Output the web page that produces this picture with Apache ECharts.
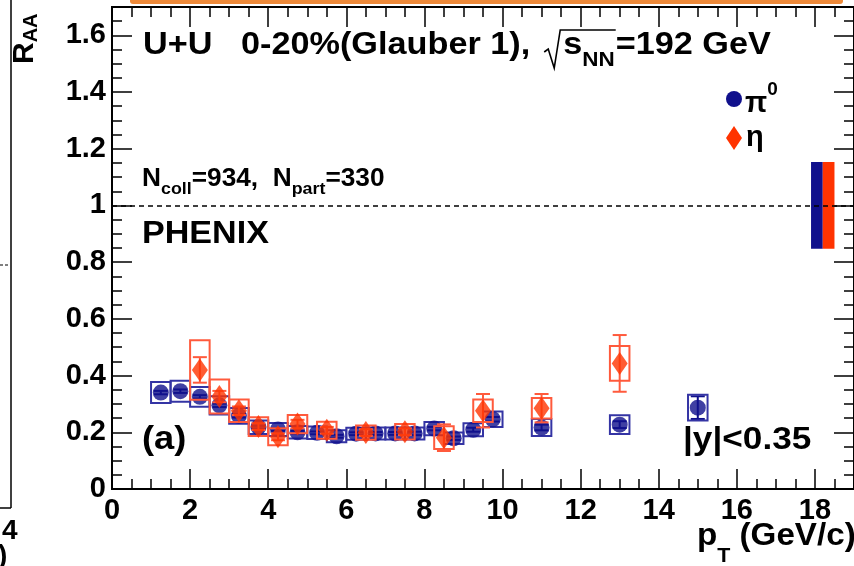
<!DOCTYPE html>
<html>
<head>
<meta charset="utf-8">
<script src="https://cdn.jsdelivr.net/npm/echarts@6/dist/echarts.min.js"></script>
<style>
html,body{margin:0;padding:0;background:#fff;}
#chart{width:854px;height:566px;}
</style>
</head>
<body>
<div id="chart"></div>
<script>
// ---- data ----
const pi0X    = [1.25,1.75,2.25,2.75,3.25,3.75,4.25,4.75,5.25,5.75,6.25,6.75,7.25,7.75,8.25,8.75,9.25,9.75,11,13,15];
const pi0Y    = [0.340,0.345,0.325,0.295,0.258,0.218,0.210,0.200,0.198,0.186,0.195,0.196,0.196,0.196,0.213,0.179,0.209,0.246,0.217,0.227,0.287];
const pi0Stat = [0.006,0.006,0.006,0.006,0.006,0.005,0.005,0.005,0.005,0.005,0.005,0.005,0.005,0.006,0.006,0.006,0.007,0.008,0.010,0.012,0.040];
const pi0Sys  = [0.037,0.037,0.035,0.032,0.028,0.024,0.023,0.022,0.022,0.021,0.021,0.021,0.021,0.021,0.023,0.020,0.023,0.027,0.030,0.033,0.045];

const etaX    = [2.25,2.75,3.25,3.75,4.25,4.75,5.5,6.5,7.5,8.5,9.5,11,13];
const etaY    = [0.420,0.326,0.276,0.220,0.184,0.229,0.207,0.199,0.202,0.181,0.276,0.285,0.443];
const etaStat = [0.045,0.020,0.015,0.012,0.012,0.015,0.012,0.012,0.012,0.047,0.059,0.050,0.100];
const etaSys  = [0.105,0.060,0.040,0.033,0.030,0.032,0.030,0.025,0.027,0.040,0.040,0.036,0.061];

// global normalisation uncertainty boxes around R_AA = 1 (pi0, eta)
const normX   = [18.05, 18.35];
const normErr = [0.153, 0.153];

const xTicks  = [0,2,4,6,8,10,12,14,16,18];
const yTicks  = [0,0.2,0.4,0.6,0.8,1,1.2,1.4,1.6];

// ---- style ----
const FONT = '"Liberation Sans", Arial, Helvetica, sans-serif';
const NAVY = '#10108c';
const NAVY_BOX = '#3434a4';
const RED = '#ff3300';
const RED_BOX = '#ff5a3c';
const XMIN = 0, XMAX = 19, YMIN = 0, YMAX = 1.7;
const BOX_HALF = 0.25;

const chart = echarts.init(document.getElementById('chart'), null, {renderer: 'canvas'});

// text run helper: places consecutive text pieces (with sub/superscript offsets)
const mctx = document.createElement('canvas').getContext('2d');
function textRun(x, yMid, segs, sx) {
  sx = sx || 1;
  const els = [], pos = [];
  let cx = x;
  segs.forEach(function (sg) {
    const t = sg[0], size = sg[1], dy = sg[2] || 0, gap = sg[3] || 0;
    cx += gap;
    const font = 'bold ' + size + 'px ' + FONT;
    mctx.font = font;
    const w = mctx.measureText(t).width * sx;
    els.push({type: 'text', x: cx, y: yMid + dy, scaleX: sx, z: 100,
      style: {text: t, font: font, fill: '#000', verticalAlign: 'middle', align: 'left'}});
    pos.push([cx, w]);
    cx += w;
  });
  return {els: els, pos: pos};
}

function axisCommon(extra) {
  return Object.assign({
    axisLine: {show: true, onZero: false, lineStyle: {color: '#000', width: 2}},
    splitLine: {show: false},
  }, extra);
}

const xMajorLabel = {
  show: true, color: '#000', fontFamily: FONT, fontWeight: 'bold', fontSize: 29, margin: 7,
  formatter: v => (xTicks.indexOf(v) >= 0 ? String(v) : ''),
  showMaxLabel: false
};
const yMajorLabel = {
  show: true, color: '#000', fontFamily: FONT, fontWeight: 'bold', fontSize: 29, margin: 6,
  formatter: v => { const r = Math.round(v*10)/10; return yTicks.indexOf(r) >= 0 ? String(r) : ''; },
  showMaxLabel: false
};
const tickStyle = {color: '#000', width: 1.5};

const xAxes = [
  axisCommon({type: 'value', position: 'bottom', min: XMIN, max: XMAX, interval: 2,
    axisTick: {show: true, inside: true, length: 20, lineStyle: tickStyle}, axisLabel: xMajorLabel}),
  axisCommon({type: 'value', position: 'bottom', min: XMIN, max: XMAX, interval: 0.5,
    axisTick: {show: true, inside: true, length: 10, lineStyle: tickStyle}, axisLabel: {show: false}}),
  axisCommon({type: 'value', position: 'top', min: XMIN, max: XMAX, interval: 2,
    axisTick: {show: true, inside: true, length: 20, lineStyle: tickStyle}, axisLabel: {show: false}}),
  axisCommon({type: 'value', position: 'top', min: XMIN, max: XMAX, interval: 0.5,
    axisTick: {show: true, inside: true, length: 10, lineStyle: tickStyle}, axisLabel: {show: false}})
];
const yAxes = [
  axisCommon({type: 'value', position: 'left', min: YMIN, max: YMAX, interval: 0.2,
    axisTick: {show: true, inside: true, length: 20, lineStyle: tickStyle}, axisLabel: yMajorLabel}),
  axisCommon({type: 'value', position: 'left', min: YMIN, max: YMAX, interval: 0.05,
    axisTick: {show: true, inside: true, length: 10, lineStyle: tickStyle}, axisLabel: {show: false}}),
  axisCommon({type: 'value', position: 'right', min: YMIN, max: YMAX, interval: 0.2,
    axisTick: {show: true, inside: true, length: 20, lineStyle: tickStyle}, axisLabel: {show: false}}),
  axisCommon({type: 'value', position: 'right', min: YMIN, max: YMAX, interval: 0.05,
    axisTick: {show: true, inside: true, length: 10, lineStyle: tickStyle}, axisLabel: {show: false}})
];

function sysBoxSeries(name, xs, ys, sys, color, z) {
  return {
    name: name, type: 'custom', z: z, silent: true,
    data: xs.map((x, i) => [x, ys[i], sys[i]]),
    renderItem: function (params, api) {
      const x = api.value(0), y = api.value(1), e = api.value(2);
      const p0 = api.coord([x - BOX_HALF, y + e]);
      const p1 = api.coord([x + BOX_HALF, y - e]);
      return {type: 'rect', shape: {x: p0[0], y: p0[1], width: p1[0]-p0[0], height: p1[1]-p0[1]},
        style: {fill: 'none', stroke: color, lineWidth: 2}};
    }
  };
}
function errBarSeries(name, xs, ys, err, color, z) {
  return {
    name: name, type: 'custom', z: z, silent: true,
    data: xs.map((x, i) => [x, ys[i], err[i]]),
    renderItem: function (params, api) {
      const x = api.value(0), y = api.value(1), e = api.value(2);
      const top = api.coord([x, y + e]);
      const bot = api.coord([x, y - e]);
      const cw = 7;
      return {type: 'group', children: [
        {type: 'line', shape: {x1: top[0], y1: top[1], x2: bot[0], y2: bot[1]}, style: {stroke: color, lineWidth: 2}},
        {type: 'line', shape: {x1: top[0]-cw, y1: top[1], x2: top[0]+cw, y2: top[1]}, style: {stroke: color, lineWidth: 2}},
        {type: 'line', shape: {x1: bot[0]-cw, y1: bot[1], x2: bot[0]+cw, y2: bot[1]}, style: {stroke: color, lineWidth: 2}}
      ]};
    }
  };
}

const normSeries = {
  name: 'norm', type: 'custom', z: 4, silent: true,
  data: normX.map((x, i) => [x, 1, normErr[i], i]),
  renderItem: function (params, api) {
    const x = api.value(0), y = api.value(1), e = api.value(2), k = api.value(3);
    const p0 = api.coord([x - 0.15, y + e]);
    const p1 = api.coord([x + 0.15, y - e]);
    return {type: 'rect', shape: {x: p0[0], y: p0[1], width: p1[0]-p0[0], height: p1[1]-p0[1]},
      style: {fill: k === 0 ? NAVY : RED}};
  }
};

// ---- annotation texts ----
const title = textRun(143, 45, [
  ['U+U   0-20%(Glauber 1),', 32, 0],
  ['s', 32, 0, 33],
  ['NN', 21, 15],
  ['=192 GeV', 32, 0, 1]
], 1.07);
const sPos = title.pos[1], nnPos = title.pos[2];
const radical = {type: 'polyline', z: 100,
  shape: {points: [[sPos[0]-19, 52], [sPos[0]-15, 49], [sPos[0]-9, 68], [sPos[0]-3, 30], [nnPos[0]+nnPos[1]+1, 30]]},
  style: {stroke: '#000', lineWidth: 1.6, fill: 'none'}};

const ncoll = textRun(142, 179, [
  ['N', 25, 0], ['coll', 17, 10], ['=934,  N', 25, 0], ['part', 17, 10], ['=330', 25, 0]
], 1.05);
const pt = textRun(697, 536, [['p', 31, 0], ['T', 20, 20], [' (GeV/c)', 31, 0]], 1.07);
const raa = textRun(0, 0, [['R', 30, 0], ['AA', 20, 6]], 1.0);
const piLeg = textRun(745, 104, [['π', 29, 0], ['0', 19, -14]], 1.0);
const etaLeg = textRun(746, 138, [['η', 29, 0]], 1.0);
const misc = textRun(142, 234, [['PHENIX', 31, 0]], 1.1).els
  .concat(textRun(142, 440, [['(a)', 33, 0]], 1.1).els)
  .concat(textRun(683, 440, [['|y|<0.35', 32, 0]], 1.1).els);

const option = {
  animation: false,
  backgroundColor: '#fff',
  grid: {left: 112, right: -3, top: 7, bottom: 77, containLabel: false},
  xAxis: xAxes,
  yAxis: yAxes,
  series: [
    {
      name: 'unity', type: 'line', data: [], z: 3,
      markLine: {silent: true, symbol: 'none', label: {show: false},
        lineStyle: {color: '#000', type: [5, 4], width: 1.5},
        data: [{yAxis: 1}]}
    },
    normSeries,
    errBarSeries('pi0 stat', pi0X, pi0Y, pi0Stat, NAVY, 4),
    sysBoxSeries('pi0 sys', pi0X, pi0Y, pi0Sys, NAVY_BOX, 5),
    {name: 'π0', type: 'scatter', z: 7, symbol: 'circle', symbolSize: 16,
      itemStyle: {color: NAVY}, data: pi0X.map((x, i) => [x, pi0Y[i]])},
    sysBoxSeries('eta sys', etaX, etaY, etaSys, RED_BOX, 8),
    errBarSeries('eta stat', etaX, etaY, etaStat, RED_BOX, 9),
    {name: 'η', type: 'scatter', z: 10, symbol: 'diamond', symbolSize: [16, 23],
      itemStyle: {color: RED}, data: etaX.map((x, i) => [x, etaY[i]])}
  ],
  graphic: [
    // cropped neighbour-figure remnants
    {type: 'rect', shape: {x: 130, y: -6, width: 713, height: 10, r: 3}, style: {fill: '#ee8a3a'}, z: 100},
    {type: 'line', shape: {x1: 11, y1: 0, x2: 11, y2: 508}, style: {stroke: '#000', lineWidth: 1.5}, z: 100},
    {type: 'line', shape: {x1: 0, y1: 508, x2: 11, y2: 508}, style: {stroke: '#000', lineWidth: 1.5}, z: 100},
    {type: 'line', shape: {x1: 0, y1: 265, x2: 9, y2: 265}, style: {stroke: '#000', lineWidth: 1, lineDash: [3, 2]}, z: 100},
    {type: 'text', x: 2, y: 531, style: {text: '4', font: 'bold 28px ' + FONT, fill: '#000', verticalAlign: 'middle'}, z: 100},
    {type: 'text', x: -2, y: 556, style: {text: ')', font: 'bold 28px ' + FONT, fill: '#000', verticalAlign: 'middle'}, z: 100},
    // y-axis title, rotated
    {type: 'group', x: 25, y: 64, rotation: Math.PI / 2, children: raa.els},
    radical,
    // legend markers
    {type: 'circle', shape: {cx: 734, cy: 99, r: 8}, style: {fill: NAVY}, z: 100},
    {type: 'polygon', shape: {points: [[734, 126], [742, 138], [734, 150], [726, 138]]}, style: {fill: RED}, z: 100}
  ].concat(title.els, ncoll.els, pt.els, piLeg.els, etaLeg.els, misc)
};

option.series.forEach(s => { s.xAxisIndex = 0; s.yAxisIndex = 0; });
chart.setOption(option);
</script>
</body>
</html>
